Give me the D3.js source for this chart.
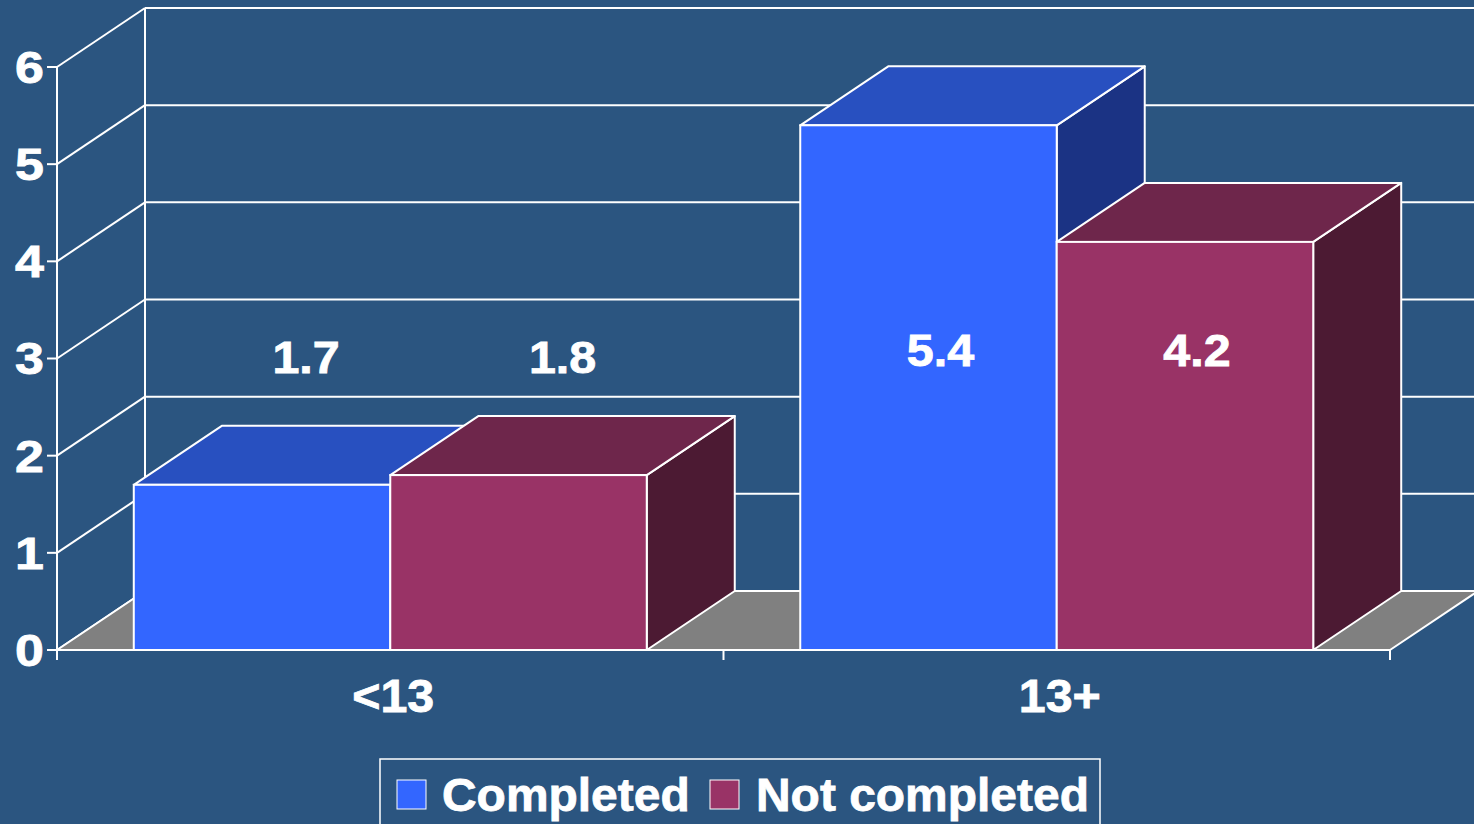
<!DOCTYPE html>
<html>
<head>
<meta charset="utf-8">
<script src="https://cdn.jsdelivr.net/npm/d3@7"></script>
<style>
  html, body { margin: 0; padding: 0; background: #2b5580; overflow: hidden; }
  svg { display: block; }
  text { font-family: "Liberation Sans", Arial, sans-serif; font-weight: bold; fill: #ffffff;
         stroke: #ffffff; stroke-width: 0.8px; }
</style>
</head>
<body>
<svg id="chart" width="1474" height="824"></svg>
<script>
// Age groups on the x axis
const categories = ["<13", "13+"];
// Series and their values per age group
const seriesNames = ["Completed", "Not completed"];
const completedValues = [1.7, 5.4];
const notCompletedValues = [1.8, 4.2];
// Value axis ticks
const yTicks = [0, 1, 2, 3, 4, 5, 6];

const svg = d3.select("#chart");

// Colours for each series: front, top and side faces
const palette = {
  "Completed":     { front: "#3366ff", top: "#2850c0", side: "#1b3384" },
  "Not completed": { front: "#993366", top: "#6e264b", side: "#4c1a33" }
};

// Oblique depth of the 3-D box
const depthX = 88, depthY = -59;

const y = d3.scaleLinear().domain([0, 6]).range([650, 67]);
const x0 = d3.scaleBand().domain(categories).range([57, 1390])
  .paddingInner(0.2303).paddingOuter(0.1152);
const x1 = d3.scaleBand().domain(seriesNames).range([0, x0.bandwidth()]).padding(0);

const rows = [];
categories.forEach((c, i) => {
  rows.push({ cat: c, series: "Completed", value: completedValues[i] });
  rows.push({ cat: c, series: "Not completed", value: notCompletedValues[i] });
});

const stroke = "#ffffff";
const sw = 2;
const xLeft = x0.range()[0], xRight = x0.range()[1];
const y0 = y(0);

// Places a text with a horizontal stretch around its anchor point
function wideText(sel, px, py, sx) {
  return sel.attr("transform", (d, i) => `translate(${px(d, i)},${py(d, i)}) scale(${sx},1)`);
}

// Back wall grid lines
const walls = svg.append("g");
walls.selectAll("line.back").data(yTicks).join("line")
  .attr("x1", xLeft + depthX).attr("x2", xRight + depthX + 10)
  .attr("y1", d => y(d) + depthY).attr("y2", d => y(d) + depthY)
  .attr("stroke", stroke).attr("stroke-width", sw);
// Back wall left edge
walls.append("line")
  .attr("x1", xLeft + depthX).attr("x2", xLeft + depthX)
  .attr("y1", y(6) + depthY).attr("y2", y0 + depthY)
  .attr("stroke", stroke).attr("stroke-width", sw);
// Side wall diagonals
walls.selectAll("line.side").data(yTicks).join("line")
  .attr("x1", xLeft).attr("x2", xLeft + depthX)
  .attr("y1", d => y(d)).attr("y2", d => y(d) + depthY)
  .attr("stroke", stroke).attr("stroke-width", sw);

// Floor
const floorPts = [[xLeft, y0], [xLeft + depthX, y0 + depthY], [xRight + depthX, y0 + depthY], [xRight, y0]];
svg.append("polygon")
  .attr("points", floorPts.map(p => p.join(",")).join(" "))
  .attr("fill", "#808080").attr("stroke", stroke).attr("stroke-width", sw)
  .attr("stroke-linejoin", "round");

// Value axis line and ticks
const axisG = svg.append("g");
axisG.append("line")
  .attr("x1", xLeft).attr("x2", xLeft).attr("y1", y(6)).attr("y2", y0 + 10)
  .attr("stroke", stroke).attr("stroke-width", sw);
axisG.selectAll("line.tick").data(yTicks).join("line")
  .attr("x1", xLeft - 10).attr("x2", xLeft)
  .attr("y1", d => y(d)).attr("y2", d => y(d))
  .attr("stroke", stroke).attr("stroke-width", sw);
wideText(
  axisG.selectAll("text.ytick").data(yTicks).join("text")
    .attr("dy", "0.36em")
    .attr("text-anchor", "end")
    .style("font-size", "44px")
    .text(d => d),
  () => xLeft - 13, d => y(d), 1.18);

// Category axis ticks
const catEdges = [xLeft, (xLeft + xRight) / 2, xRight];
axisG.selectAll("line.xtick").data(catEdges).join("line")
  .attr("x1", d => d).attr("x2", d => d)
  .attr("y1", y0).attr("y2", y0 + 10)
  .attr("stroke", stroke).attr("stroke-width", sw);
wideText(
  axisG.selectAll("text.xcat").data(categories).join("text")
    .attr("text-anchor", "middle")
    .style("font-size", "46px")
    .text(d => d),
  d => x0(d) + x0.bandwidth() / 2 + 3, () => 712, 1.05);

// Bars as oblique boxes, drawn left to right
const bars = svg.append("g");
const poly = pts => pts.map(p => p.join(",")).join(" ");
rows.forEach(r => {
  const xa = x0(r.cat) + x1(r.series);
  const xb = xa + x1.bandwidth();
  const yt = y(r.value);
  const c = palette[r.series];
  const g = bars.append("g");
  g.append("polygon") // side
    .attr("points", poly([[xb, yt], [xb + depthX, yt + depthY], [xb + depthX, y0 + depthY], [xb, y0]]))
    .attr("fill", c.side).attr("stroke", stroke).attr("stroke-width", sw).attr("stroke-linejoin", "round");
  g.append("polygon") // top
    .attr("points", poly([[xa, yt], [xa + depthX, yt + depthY], [xb + depthX, yt + depthY], [xb, yt]]))
    .attr("fill", c.top).attr("stroke", stroke).attr("stroke-width", sw).attr("stroke-linejoin", "round");
  g.append("rect") // front
    .attr("x", xa).attr("y", yt).attr("width", xb - xa).attr("height", y0 - yt)
    .attr("fill", c.front).attr("stroke", stroke).attr("stroke-width", sw);
});

// Baseline across the front of the floor
svg.append("line")
  .attr("x1", xLeft).attr("x2", xRight).attr("y1", y0).attr("y2", y0)
  .attr("stroke", stroke).attr("stroke-width", sw);

// Data labels
const labelY = 373;
wideText(
  svg.append("g").selectAll("text").data(rows).join("text")
    .attr("text-anchor", "middle")
    .style("font-size", "44px")
    .text(r => r.value.toFixed(1)),
  r => x0(r.cat) + x1(r.series) + x1.bandwidth() / 2 + (r.value > 3 ? 12 : 44),
  r => labelY - (r.value > 3 ? 7 : 0),
  1.1);

// Legend
const legend = svg.append("g");
legend.append("rect")
  .attr("x", 380).attr("y", 759).attr("width", 720).attr("height", 80)
  .attr("fill", "none").attr("stroke", stroke).attr("stroke-width", 1.5);
const legendItems = [
  { name: seriesNames[0], sx: 397, tx: 442 },
  { name: seriesNames[1], sx: 710, tx: 756 }
];
legendItems.forEach(it => {
  legend.append("rect")
    .attr("x", it.sx).attr("y", 780).attr("width", 29).attr("height", 29)
    .attr("fill", palette[it.name].front).attr("stroke", stroke).attr("stroke-width", 1);
  wideText(
    legend.append("text").datum(it)
      .style("font-size", "47px")
      .text(d => d.name),
    d => d.tx, () => 811, 1.02);
});
</script>
</body>
</html>
